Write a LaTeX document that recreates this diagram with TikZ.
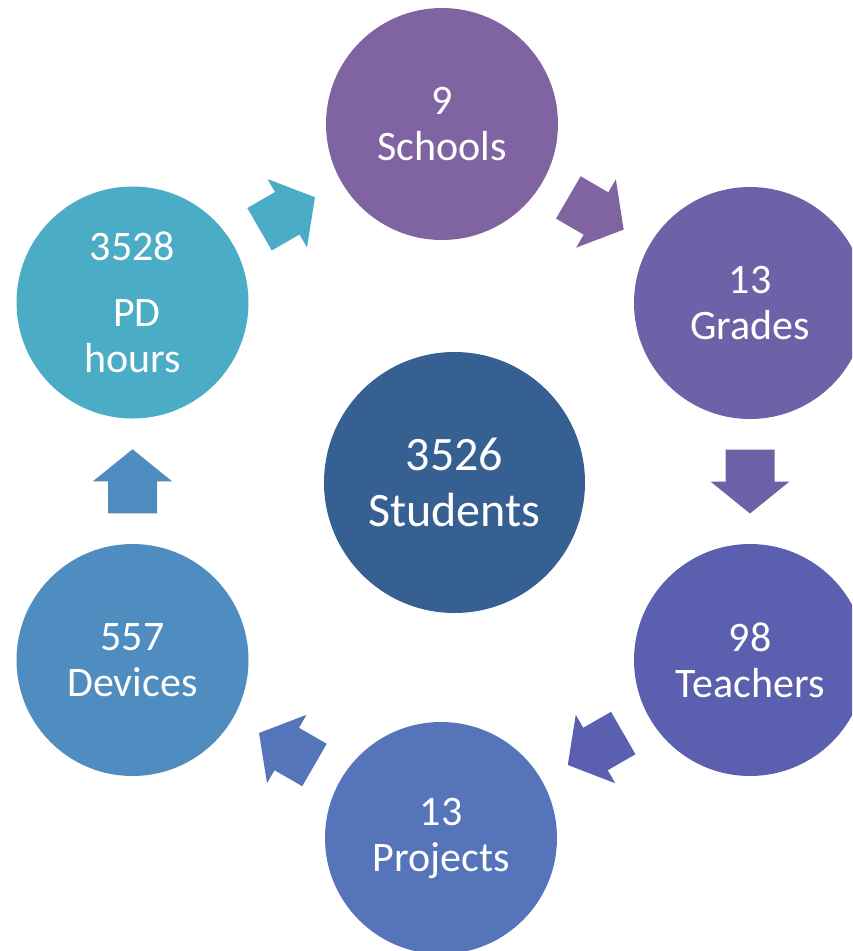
\documentclass[tikz,border=0pt]{standalone}
\usepackage{fontspec}
\setmainfont{Carlito}
\definecolor{cPD}{HTML}{4BACC6}
\definecolor{cSchools}{HTML}{8064A2}
\definecolor{cGrades}{HTML}{6D61A7}
\definecolor{cTeachers}{HTML}{5B5FAF}
\definecolor{cProjects}{HTML}{5574B9}
\definecolor{cDevices}{HTML}{4F8CC0}
\definecolor{cStudents}{HTML}{376092}
\begin{document}
\begin{tikzpicture}[x=1pt,y=-1pt,
  bubble/.style={circle,minimum size=232pt,inner sep=0pt,text=white,align=center,
    font=\fontsize{42}{46}\selectfont},
  bigbubble/.style={circle,minimum size=261pt,inner sep=0pt,text=white,align=center,
    font=\fontsize{48}{56}\selectfont},
  blockarrow/.pic={\path[pic actions] (-32,-24.5) -- (0,-24.5) -- (0,-39.5) -- (32,0)
    -- (0,39.5) -- (0,24.5) -- (-32,24.5) -- cycle;},
  arr/.style={pos=.5,sloped,allow upside down}]
\useasboundingbox (0,0) rectangle (852,951);
\clip (0,0) rectangle (852,951);
\node[bubble,fill=cPD] (pd) at (132.5,302.5) {3528\\[20pt]\hspace*{9pt}PD\\hours};
\node[bubble,fill=cSchools] (schools) at (442,124) {9\\Schools};
\node[bubble,fill=cGrades] (grades) at (750,303) {13\\Grades};
\node[bubble,fill=cTeachers] (teachers) at (750,660) {98\\Teachers};
\node[bubble,fill=cProjects] (projects) at (441,838) {13\\Projects};
\node[bubble,fill=cDevices] (devices) at (132.5,660) {557\\Devices};
\node[bigbubble,fill=cStudents] (students) at (454.5,482.5) {3526\\Students};
\path (pd.center) -- (schools.center) pic[arr,fill=cPD] {blockarrow};
\path (schools.center) -- (grades.center) pic[arr,fill=cSchools] {blockarrow};
\path (grades.center) -- (teachers.center) pic[arr,fill=cGrades] {blockarrow};
\path (teachers.center) -- (projects.center) pic[arr,fill=cTeachers] {blockarrow};
\path (projects.center) -- (devices.center) pic[arr,fill=cProjects] {blockarrow};
\path (devices.center) -- (pd.center) pic[arr,fill=cDevices] {blockarrow};
\end{tikzpicture}
\end{document}
